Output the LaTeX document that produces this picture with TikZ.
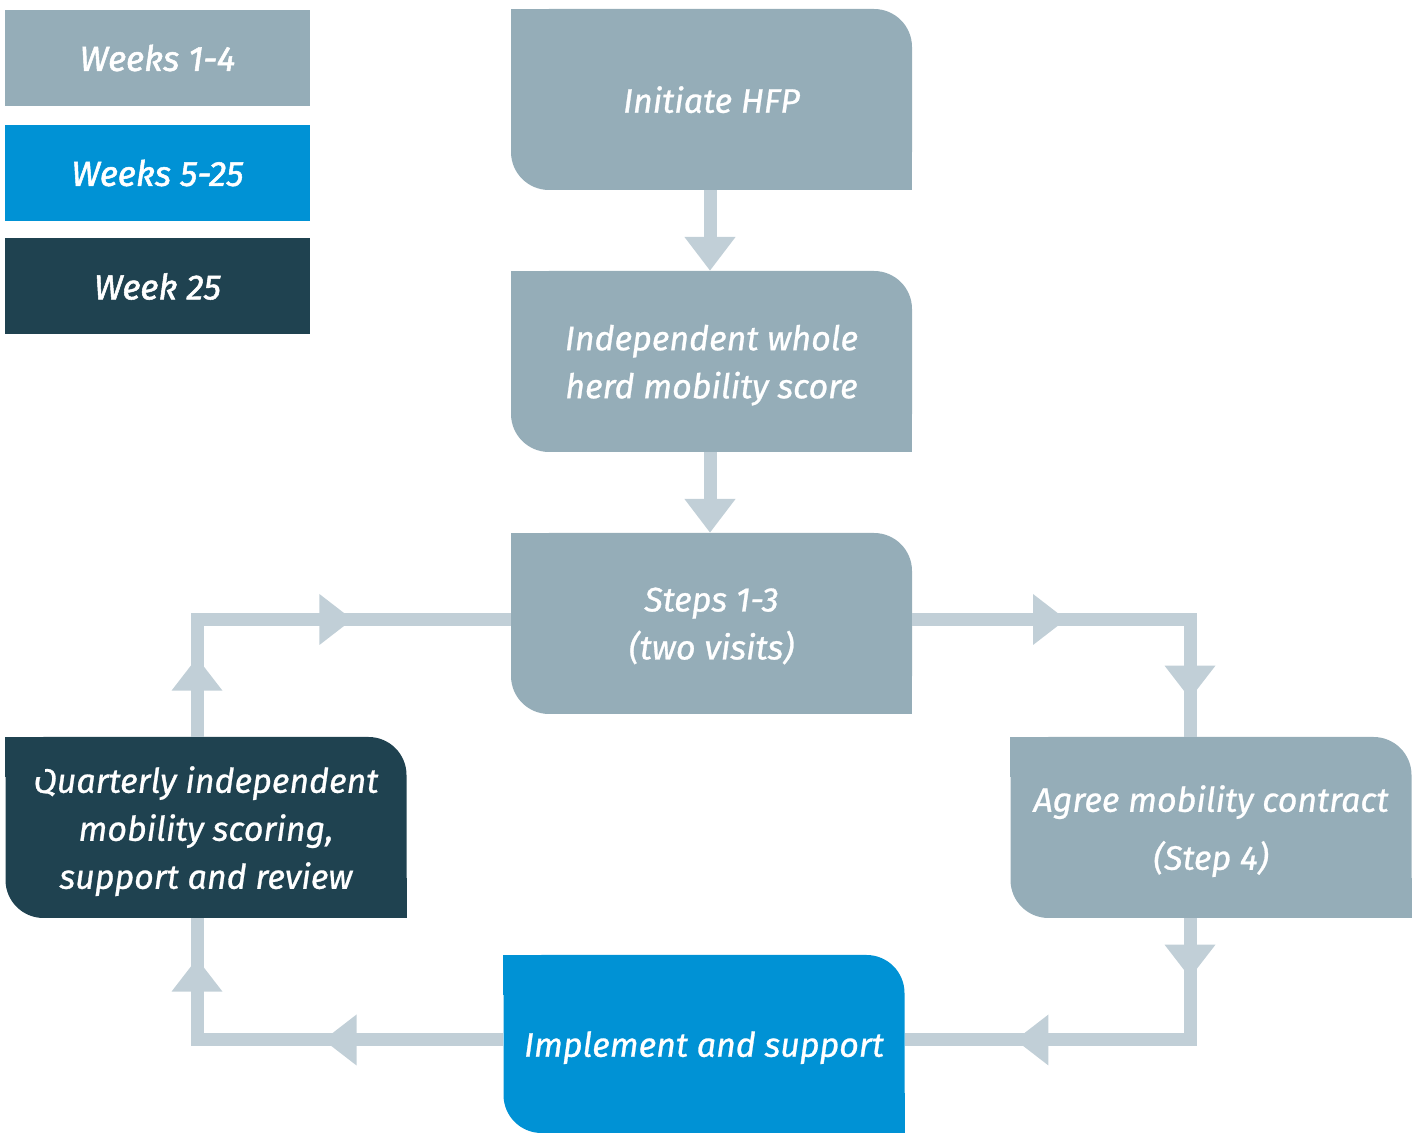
\documentclass[tikz,border=0pt]{standalone}
\usepackage{fontspec}
\setmainfont{Fira Sans}[ItalicFeatures={FakeBold=0.8}]
\newfontfamily\legendfont{Fira Sans}[ItalicFeatures={FakeBold=1.5}]
\usetikzlibrary{
  positioning,
  arrows.meta,
  shapes.geometric
}
\definecolor{stagegrey}{RGB}{149, 173, 184}
\definecolor{stageblue}{RGB}{0, 146, 213}
\definecolor{stagedark}{RGB}{31, 66, 80}
\definecolor{flowgrey}{RGB}{193, 207, 215}
\tikzset{
  stage/.style={
    fill=stagegrey, rounded corners=38pt,
    minimum width=401pt,
    minimum height=181pt,
    inner sep=0pt, text=white, text depth=0pt,
    font=\fontsize{34}{48}\selectfont\itshape,
    align=center
  },
  legend/.style={
    fill=stagegrey,
    minimum width=305pt,
    minimum height=96pt,
    inner sep=0pt, text=white,
    font=\fontsize{35}{40}\legendfont\itshape,
    align=center
  },
  flow/.style={line width=13pt, flowgrey},
  endtip/.style={-{Triangle[width=49pt, length=34pt]}},
  midtip/.style={isosceles triangle, isosceles triangle stretches,
    fill=flowgrey, minimum height=33pt, minimum width=51pt,
    inner sep=0pt, sloped, allow upside down, node contents={}}
}
\newcommand{\leafcorners}[2]{
  \fill[#2] (#1.north west) rectangle ++(40pt, -40pt);
  \fill[#2] (#1.south east) rectangle ++(-40pt, 40pt);
}

\begin{document}
\begin{tikzpicture}[x=1pt, y=1pt]
\useasboundingbox (0, 0) rectangle (1417, 1133);

% legend
\node[legend] (wkfirst) at (157.5, 1075) {Weeks 1-4};
\node[legend, fill=stageblue] (wkmid) at (157.5, 960) {Weeks 5-25};
\node[legend, fill=stagedark] (wklast) at (157.5, 846.5) {Week 25};

% stages
\node[stage] (init) at (711.5, 1033.5) {Initiate HFP};
\leafcorners{init}{stagegrey}
\node[stage] (indep) at (711.5, 771.5) {Independent whole\\herd mobility score};
\leafcorners{indep}{stagegrey}
\node[stage] (steps) at (711.5, 509.5) {Steps 1-3\\(two visits)};
\leafcorners{steps}{stagegrey}
\node[stage] (agree) at (1211, 305.5) {Agree mobility contract\\[10pt](Step 4)};
\leafcorners{agree}{stagegrey}
\node[stage, fill=stagedark] (quart) at (206, 305.5) {Quarterly independent\\mobility scoring,\\support and review};
\leafcorners{quart}{stagedark}
\node[stage, fill=stageblue, minimum height=178pt] (impl) at (704, 89) {Implement and support};
\leafcorners{impl}{stageblue}

% straight arrows
\draw[flow, endtip] ([xshift=-1.5pt]init.south) -- ([xshift=-1.5pt]indep.north);
\draw[flow, endtip] ([xshift=-1.5pt]indep.south) -- ([xshift=-1.5pt]steps.north);

% loop
\draw[flow] ([yshift=4pt]steps.east) -| ([xshift=-21pt]agree.north)
  node[midtip, pos=0.24] node[midtip, pos=0.75];
\draw[flow] ([xshift=-21pt]agree.south) |- ([yshift=4pt]impl.east)
  node[midtip, pos=0.16] node[midtip, pos=0.77];
\draw[flow] ([yshift=4pt]impl.west) -| ([xshift=-9pt]quart.south)
  node[midtip, pos=0.26] node[midtip, pos=0.75];
\draw[flow] ([xshift=-9pt]quart.north) |- ([yshift=4pt]steps.west)
  node[midtip, pos=0.25] node[midtip, pos=0.715];

\end{tikzpicture}
\end{document}
